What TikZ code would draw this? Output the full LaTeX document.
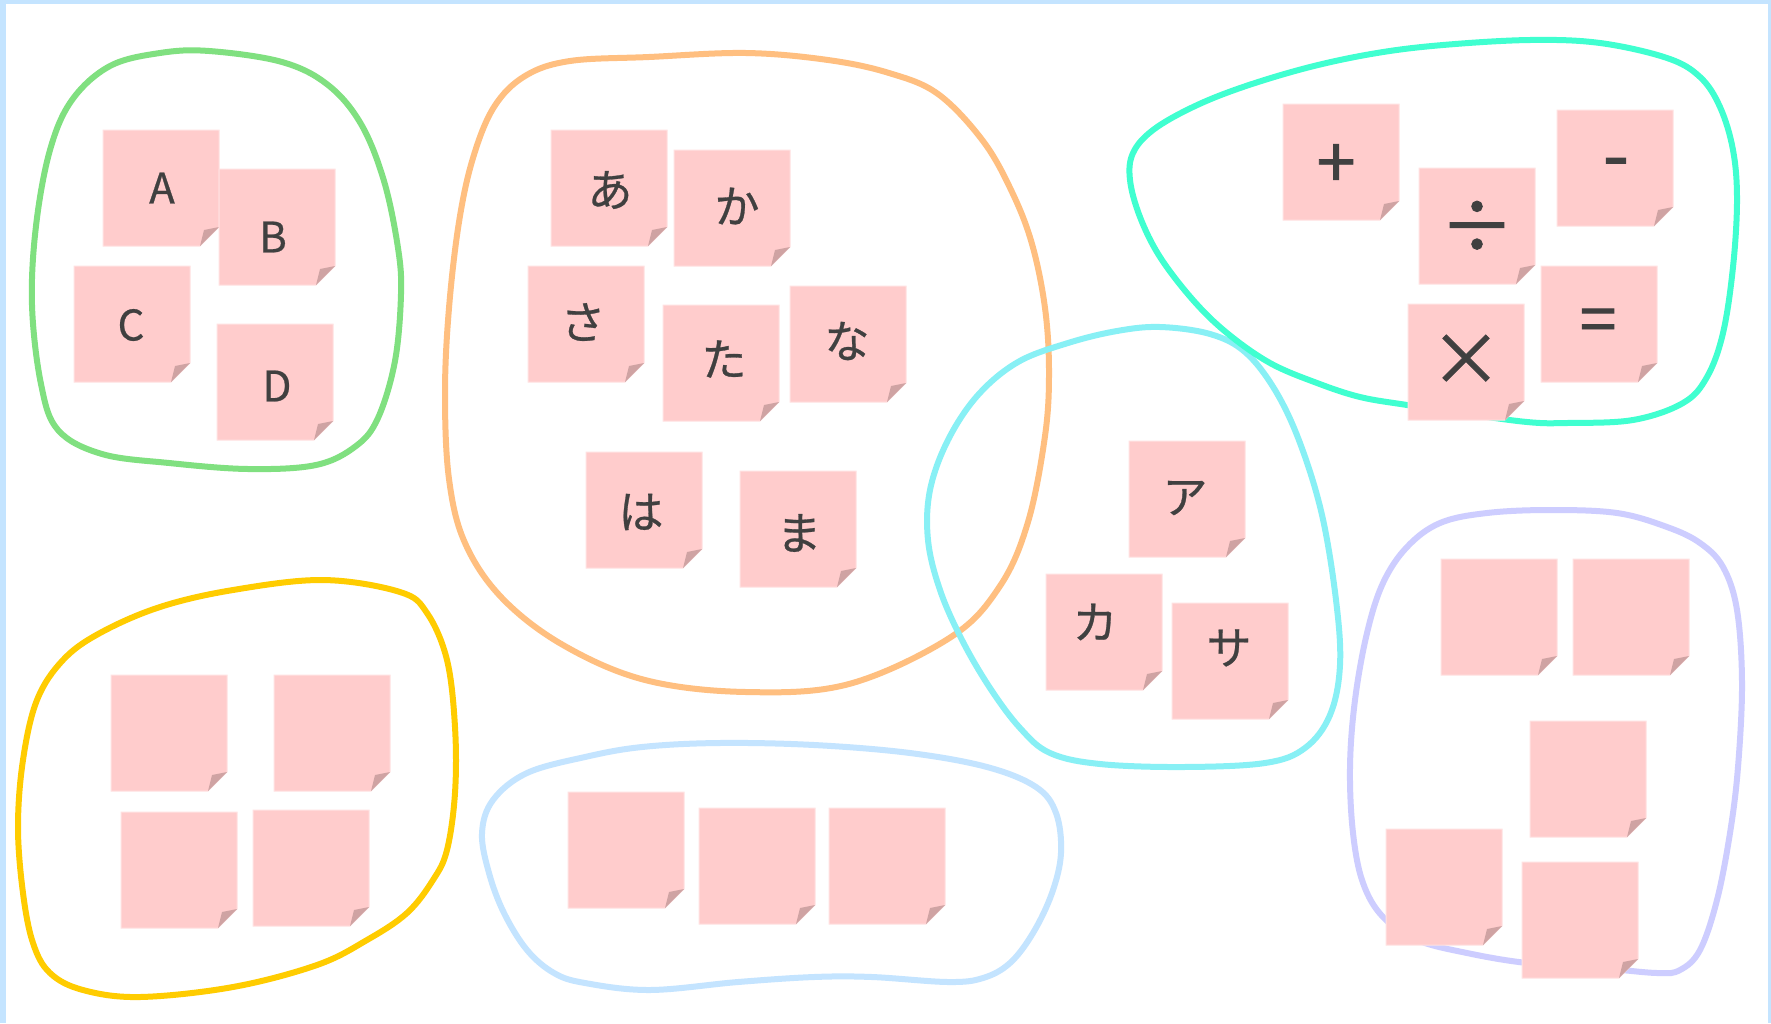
\documentclass[tikz,border=0pt]{standalone}
\usepackage{fontspec}
\newfontfamily\jp[FakeBold=0.6]{Noto Sans CJK JP}
\newfontfamily\jpsym[FakeBold=1.2]{Noto Sans CJK JP}
\definecolor{framec}{HTML}{C4E4FF}
\definecolor{notec}{HTML}{FFCCCC}
\definecolor{noteedge}{HTML}{FFE2E2}
\definecolor{foldc}{HTML}{CFA3A3}
\definecolor{txtc}{HTML}{404040}
\definecolor{greenc}{HTML}{80E080}
\definecolor{orangec}{HTML}{FFBF80}
\definecolor{tealc}{HTML}{40FFD0}
\definecolor{cyanc}{HTML}{88F0F5}
\definecolor{purplec}{HTML}{CDCDFF}
\definecolor{yellowc}{HTML}{FFCC00}
\definecolor{bluec}{HTML}{C4E4FF}
\tikzset{
  blob/.style={line width=6pt, line join=round},
  notefill/.style={fill=notec, draw=noteedge, line width=1pt},
  foldfill/.style={fill=foldc},
  latinlabel/.style={inner sep=0pt, text=txtc, font=\jp\fontsize{42}{42}\selectfont},
  kanalabel/.style={inner sep=0pt, text=txtc, font=\jp\fontsize{45}{45}\selectfont},
  blanklabel/.style={inner sep=0pt},
  symlabel/.style={inner sep=0pt, text=txtc, font=\jpsym\fontsize{#1}{#1}\selectfont},
}
% name, left, top, text x, text y, label style, text
\newcommand\sticky[7]{%
  \path[notefill] (#2,#3) -- (#2+116,#3) -- (#2+116,#3+97) -- (#2+97,#3+116) -- (#2,#3+116) -- cycle;
  \fill[foldfill] (#2+97,#3+116) -- (#2+101,#3+100) -- (#2+116,#3+97) -- cycle;
  \node[#6] (#1) at (#4,#5) {#7};
}
\begin{document}
\begin{tikzpicture}[x=1pt,y=-1pt]
\useasboundingbox (0,0) rectangle (1771,1023);
\fill[framec] (0,0) rectangle (1771,1023);
\fill[white] (6,4) rectangle (1768,1023);

% green group
\draw[blob, greenc] plot[smooth cycle, tension=0.6] coordinates {
 (209,51) (282,62) (328,85) (361,124) (384,181) (398,248) (401,294) (395,361)
 (378,418) (356,446) (316,465) (248,469) (169,463) (102,454) (58,430) (41,384)
 (32,305) (36,226) (50,150) (72,100) (110,66) (160,53)};
% orange group
\draw[blob, orangec] plot[smooth cycle, tension=0.6] coordinates {
 (746,53) (649,57) (570,61) (525,76) (494,107) (473,158) (459,222) (449,308)
 (445,393) (449,479) (465,543) (502,598) (563,645) (645,680) (746,692) (849,684)
 (951,637) (1000,586) (1028,522) (1045,436) (1049,372) (1045,308) (1032,244)
 (1012,192) (983,141) (938,94) (889,73) (828,60)};
% cyan group
\draw[blob, cyanc] plot[smooth cycle, tension=0.6] coordinates {
 (1160,327) (1210,334) (1245,352) (1275,390) (1300,443) (1322,515) (1336,600)
 (1340,665) (1330,715) (1305,748) (1265,763) (1183,767) (1100,764) (1050,753)
 (1020,728) (990,688) (962,640) (940,590) (928,540) (930,490) (948,440)
 (978,395) (1018,362) (1068,343) (1117,331)};
% teal group
\draw[blob, tealc] plot[smooth cycle, tension=0.6] coordinates {
 (1530,40) (1600,43) (1667,58) (1700,77) (1720,107) (1733,150) (1737,200)
 (1733,267) (1723,333) (1707,377) (1683,403) (1633,420) (1567,423) (1527,422)
 (1460,413) (1407,405) (1360,397) (1317,383) (1270,363) (1227,333) (1193,300)
 (1160,257) (1140,217) (1130,180) (1133,153) (1153,130) (1193,107) (1243,87)
 (1310,67) (1377,53) (1443,45)};
% purple group
\draw[blob, purplec] plot[smooth cycle, tension=0.6] coordinates {
 (1550,510) (1617,513) (1667,527) (1700,543) (1723,567) (1737,610) (1742,683)
 (1738,767) (1730,833) (1717,900) (1700,950) (1680,970) (1657,973) (1600,968)
 (1527,963) (1467,953) (1417,940) (1383,917) (1363,883) (1353,833) (1350,767)
 (1355,700) (1367,633) (1383,583) (1407,547) (1440,523) (1487,513)};
% yellow group
\draw[blob, yellowc] plot[smooth cycle, tension=0.6] coordinates {
 (323,580) (400,592) (427,613) (447,660) (455,727) (455,793) (447,850) (433,880)
 (407,913) (367,940) (317,965) (233,987) (140,997) (83,990) (50,973) (33,943)
 (23,893) (18,827) (23,760) (37,700) (63,660) (100,633) (160,607) (233,590)};
% blue group
\draw[blob, bluec] plot[smooth cycle, tension=0.6] coordinates {
 (719,743) (814,745) (910,753) (987,767) (1036,787) (1056,813) (1061,853)
 (1052,893) (1033,933) (1010,963) (983,978) (948,982) (872,977) (814,977)
 (738,982) (650,990) (585,983) (554,973) (527,950) (504,913) (489,873)
 (482,833) (493,800) (527,773) (585,757) (642,747)};

% notes: green
\sticky{nA}{103}{130}{162}{188}{latinlabel}{A}
\sticky{nB}{219}{169}{273}{237}{latinlabel}{B}
\sticky{nC}{74}{266}{131}{325}{latinlabel}{C}
\sticky{nD}{217}{324}{277}{386}{latinlabel}{D}
% orange
\sticky{na}{551}{130}{610}{190}{kanalabel}{あ}
\sticky{nka}{674}{150}{737}{206}{kanalabel}{か}
\sticky{nsa}{528}{266}{583}{322}{kanalabel}{さ}
\sticky{nta}{663}{305}{724}{359}{kanalabel}{た}
\sticky{nna}{790}{286}{847}{341}{kanalabel}{な}
\sticky{nha}{586}{452}{641}{512}{kanalabel}{は}
\sticky{nma}{740}{471}{799}{533}{kanalabel}{ま}
% cyan
\sticky{kA}{1129}{441}{1185}{498}{kanalabel}{ア}
\sticky{kKa}{1046}{574}{1095}{622}{kanalabel}{カ}
\sticky{kSa}{1172}{603}{1229}{648}{kanalabel}{サ}
% teal
\sticky{sPlus}{1283}{104}{1336}{166}{symlabel=70}{+}
\sticky{sDiv}{1419}{168}{1477}{227}{symlabel=74}{÷}
\sticky{sMinus}{1557}{110}{1616}{170}{symlabel=76}{-}
\sticky{sTimes}{1408}{304}{1466}{360}{symlabel=72}{×}
\sticky{sEq}{1541}{266}{1598}{326}{symlabel=66}{=}
% yellow
\sticky{y1}{111}{675}{169}{733}{blanklabel}{}
\sticky{y2}{274}{675}{332}{733}{blanklabel}{}
\sticky{y3}{121}{812}{179}{870}{blanklabel}{}
\sticky{y4}{253}{810}{311}{868}{blanklabel}{}
% blue
\sticky{b1}{568}{792}{626}{850}{blanklabel}{}
\sticky{b2}{699}{808}{757}{866}{blanklabel}{}
\sticky{b3}{829}{808}{887}{866}{blanklabel}{}
% purple
\sticky{p1}{1441}{559}{1499}{617}{blanklabel}{}
\sticky{p2}{1573}{559}{1631}{617}{blanklabel}{}
\sticky{p3}{1530}{721}{1588}{779}{blanklabel}{}
\sticky{p4}{1386}{829}{1444}{887}{blanklabel}{}
\sticky{p5}{1522}{862}{1580}{920}{blanklabel}{}
\end{tikzpicture}
\end{document}
